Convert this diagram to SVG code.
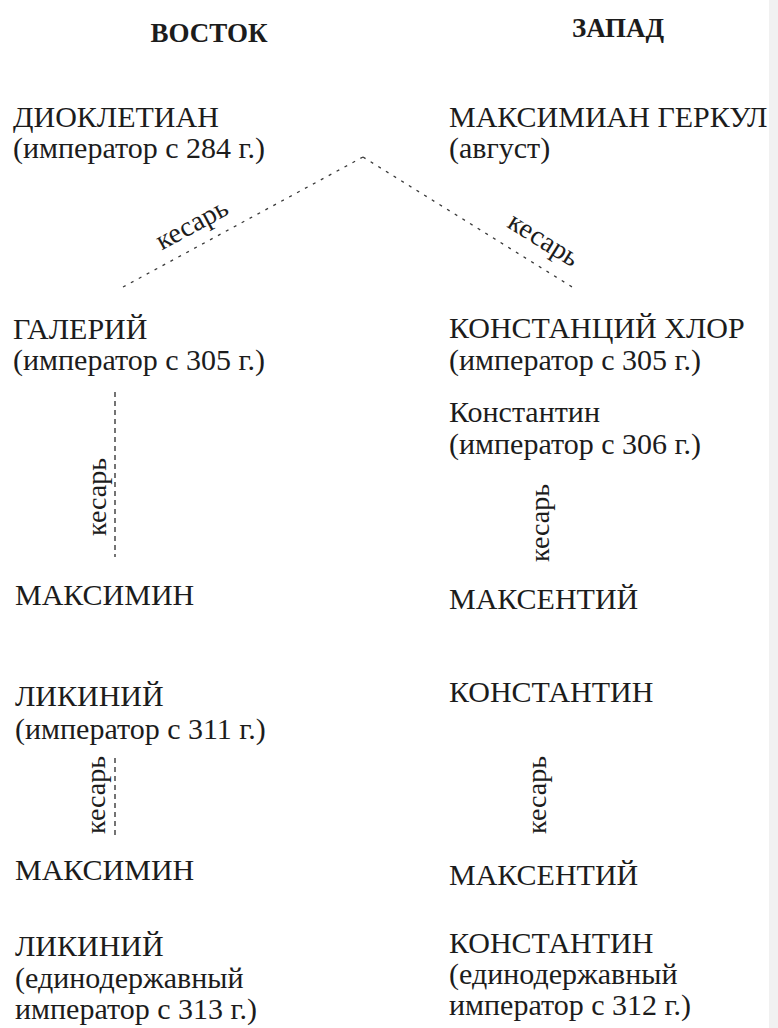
<svg xmlns="http://www.w3.org/2000/svg" width="778" height="1028" viewBox="0 0 778 1028">
  <style>
    text { font-family: "Liberation Serif", "Tinos", "DejaVu Serif", serif; fill: #1c1c1c; }
    .hdr { font-size: 27px; font-weight: bold; text-anchor: middle; }
    .name { font-size: 30px; }
    .sub { font-size: 30px; }
    .lbl { font-size: 28px; }
    .dash { stroke: #2a2a2a; stroke-width: 1.3; fill: none; stroke-dasharray: 5 4; }
    .dot { stroke: #3a3a3a; stroke-width: 1.3; fill: none; stroke-dasharray: 3 6; }
  </style>
  <rect x="0" y="0" width="778" height="1028" fill="#ffffff"/>
  <rect x="769" y="0" width="9" height="1028" fill="#f1f1f1"/>

  <g id="headers" font-family="'Liberation Serif', 'DejaVu Serif', serif">
    <text class="hdr" x="209" y="42">ВОСТОК</text>
    <text class="hdr" x="618" y="37">ЗАПАД</text>
  </g>

  <g id="node-diocletian" font-family="'Liberation Serif', 'DejaVu Serif', serif">
    <text class="name" x="13" y="127">ДИОКЛЕТИАН</text>
    <text class="sub" x="13" y="158">(император с  284 г.)</text>
  </g>
  <g id="node-maximian" font-family="'Liberation Serif', 'DejaVu Serif', serif">
    <text class="name" x="449" y="127">МАКСИМИАН ГЕРКУЛ</text>
    <text class="sub" x="449" y="158">(август)</text>
  </g>
  <g id="node-galerius" font-family="'Liberation Serif', 'DejaVu Serif', serif">
    <text class="name" x="13" y="339">ГАЛЕРИЙ</text>
    <text class="sub" x="13" y="370">(император с  305 г.)</text>
  </g>
  <g id="node-constantius" font-family="'Liberation Serif', 'DejaVu Serif', serif">
    <text class="name" x="449" y="338">КОНСТАНЦИЙ ХЛОР</text>
    <text class="sub" x="449" y="370">(император с  305 г.)</text>
  </g>
  <g id="node-constantine-1" font-family="'Liberation Serif', 'DejaVu Serif', serif">
    <text class="name" x="449" y="422">Константин</text>
    <text class="sub" x="449" y="454">(император с  306 г.)</text>
  </g>
  <g id="node-maximinus-1" font-family="'Liberation Serif', 'DejaVu Serif', serif">
    <text class="name" x="15" y="605">МАКСИМИН</text>
  </g>
  <g id="node-maxentius-1" font-family="'Liberation Serif', 'DejaVu Serif', serif">
    <text class="name" x="449" y="609">МАКСЕНТИЙ</text>
  </g>
  <g id="node-licinius-1" font-family="'Liberation Serif', 'DejaVu Serif', serif">
    <text class="name" x="15" y="706">ЛИКИНИЙ</text>
    <text class="sub" x="15" y="739">(император с  311 г.)</text>
  </g>
  <g id="node-constantine-2" font-family="'Liberation Serif', 'DejaVu Serif', serif">
    <text class="name" x="449" y="702">КОНСТАНТИН</text>
  </g>
  <g id="node-maximinus-2" font-family="'Liberation Serif', 'DejaVu Serif', serif">
    <text class="name" x="15" y="880">МАКСИМИН</text>
  </g>
  <g id="node-maxentius-2" font-family="'Liberation Serif', 'DejaVu Serif', serif">
    <text class="name" x="449" y="885">МАКСЕНТИЙ</text>
  </g>
  <g id="node-licinius-2" font-family="'Liberation Serif', 'DejaVu Serif', serif">
    <text class="name" x="15" y="956">ЛИКИНИЙ</text>
    <text class="sub" x="15" y="988">(единодержавный</text>
    <text class="sub" x="15" y="1019">император с  313 г.)</text>
  </g>
  <g id="node-constantine-3" font-family="'Liberation Serif', 'DejaVu Serif', serif">
    <text class="name" x="449" y="953">КОНСТАНТИН</text>
    <text class="sub" x="449" y="984">(единодержавный</text>
    <text class="sub" x="449" y="1015">император с  312 г.)</text>
  </g>

  <g id="connectors" font-family="'Liberation Serif', 'DejaVu Serif', serif">
    <path class="dot" d="M363 157 L123 287"/>
    <path class="dot" d="M363 157 L577 290"/>
    <text class="lbl" text-anchor="middle" transform="translate(196 232) rotate(-28.4)">кесарь</text>
    <text class="lbl" text-anchor="middle" transform="translate(539 247) rotate(31.9)">кесарь</text>

    <path class="dash" d="M115 392 L115 557"/>
    <text class="lbl" text-anchor="middle" transform="translate(106 497) rotate(-90)">кесарь</text>

    <text class="lbl" text-anchor="middle" transform="translate(549 523) rotate(-90)">кесарь</text>

    <path class="dash" d="M115 758 L115 835" stroke-dasharray="4 3"/>
    <text class="lbl" text-anchor="middle" transform="translate(105 795) rotate(-90)">кесарь</text>

    <text class="lbl" text-anchor="middle" transform="translate(546 795) rotate(-90)">кесарь</text>
  </g>
</svg>
